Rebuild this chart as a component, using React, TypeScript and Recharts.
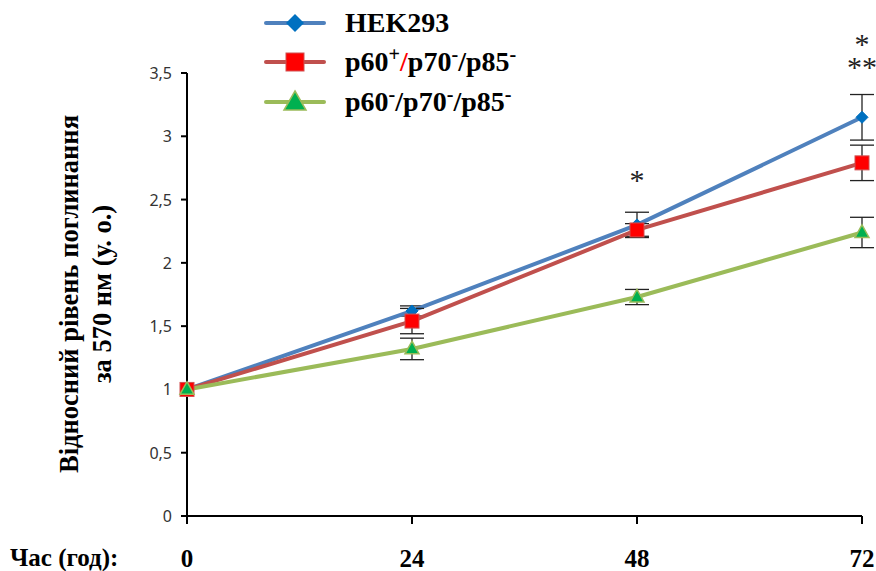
import React from "react";
import { LineChart, Line, XAxis, YAxis, ErrorBar, LabelList } from "recharts";

const hours = [0, 24, 48, 72];
const hek = [1, 1.62, 2.3, 3.15];
const hekErr = [0, 0.04, 0.1, 0.18];
const p60plus = [1, 1.54, 2.26, 2.79];
const p60plusErr = [0, 0.1, 0.05, 0.14];
const p60minus = [1, 1.32, 1.73, 2.24];
const p60minusErr = [0, 0.085, 0.06, 0.12];
const yTicks = [0, 0.5, 1, 1.5, 2, 2.5, 3, 3.5];
const xTicks = [0, 24, 48, 72];
const stars = ["", "", "*", "*|**"];

const data = hours.map((h, i) => ({
  h,
  hek: hek[i],
  hekErr: hekErr[i],
  pp: p60plus[i],
  ppErr: p60plusErr[i],
  pm: p60minus[i],
  pmErr: p60minusErr[i],
  star: stars[i],
}));

const serif = "'Liberation Serif', 'Times New Roman', serif";

const Diamond = (props: any) => {
  const { cx, cy } = props;
  if (cx == null || cy == null) return null;
  const r = 6;
  return <path d={`M${cx},${cy - r} L${cx + r},${cy} L${cx},${cy + r} L${cx - r},${cy} Z`} fill="#0070C0" stroke="#0070C0" />;
};
const Square = (props: any) => {
  const { cx, cy } = props;
  if (cx == null || cy == null) return null;
  const s = 7;
  return <rect x={cx - s} y={cy - s} width={2 * s} height={2 * s} fill="#FF0000" stroke="#D05050" strokeWidth={1} />;
};
const Tri = (props: any) => {
  const { cx, cy } = props;
  if (cx == null || cy == null) return null;
  const s = 7;
  return <path d={`M${cx},${cy - s * 1.1} L${cx + s},${cy + s * 0.7} L${cx - s},${cy + s * 0.7} Z`} fill="#00B050" stroke="#9BBB59" strokeWidth={1.5} />;
};

const XTick = (props: any) => {
  const { x, payload } = props;
  return (
    <text x={x} y={558} textAnchor="middle" dominantBaseline="central" fontFamily={serif} fontWeight="bold" fontSize={25} fill="#000">
      {payload.value}
    </text>
  );
};

const YTick = (props: any) => {
  const { x, y, payload } = props;
  return (
    <text x={x} y={y} textAnchor="end" dominantBaseline="central" fontFamily="'Noto Sans', sans-serif" fontSize={16} fill="#333">
      {String(payload.value).replace(".", ",")}
    </text>
  );
};

const StarLabel = (props: any) => {
  const { x, y, value } = props;
  if (!value) return null;
  const parts = String(value).split("|");
  if (parts.length === 1) {
    return (
      <text x={x} y={y - 35} textAnchor="middle" fontFamily={serif} fontSize={30} fill="#222">
        {parts[0]}
      </text>
    );
  }
  return (
    <text x={x} y={y - 63} textAnchor="middle" fontFamily={serif} fontSize={30} fill="#222">
      <tspan x={x}>{parts[0]}</tspan>
      <tspan x={x} dy={23}>{parts[1]}</tspan>
    </text>
  );
};

const supStyle: React.CSSProperties = { fontSize: "0.72em", verticalAlign: "0.5em", lineHeight: 0 };

const LegendRow = ({ top, color, marker, children }: any) => (
  <div style={{ position: "absolute", left: 263, top, height: 40, display: "flex", alignItems: "center" }}>
    <svg width={64} height={30}>
      <line x1={3} y1={15} x2={61} y2={15} stroke={color} strokeWidth={4} strokeLinecap="round" />
      {marker}
    </svg>
    <span style={{ marginLeft: 18, fontFamily: serif, fontWeight: "bold", fontSize: 28, color: "#000", whiteSpace: "nowrap" }}>{children}</span>
  </div>
);

export default function App() {
  return (
    <div style={{ position: "absolute", left: 0, top: 0, width: 876, height: 571, background: "#fff" }}>
      <LineChart width={876} height={571} data={data} margin={{ top: 73, right: 14, bottom: 25, left: 130 }}>
        <XAxis
          dataKey="h"
          type="number"
          domain={[0, 72]}
          ticks={xTicks}
          height={30}
          axisLine={{ stroke: "#000", strokeWidth: 2 }}
          tickLine={{ stroke: "#000", strokeWidth: 2 }}
          tickSize={8}
          tick={<XTick />}
        />
        <YAxis
          type="number"
          domain={[0, 3.5]}
          ticks={yTicks}
          width={57}
          axisLine={{ stroke: "#000", strokeWidth: 2 }}
          tickLine={{ stroke: "#000", strokeWidth: 2 }}
          tickSize={6}
          tickMargin={9}
          tick={<YTick />}
        />
        <Line dataKey="hek" stroke="#4F81BD" strokeWidth={4} dot={<Diamond />} isAnimationActive={false}>
          <ErrorBar dataKey="hekErr" width={12} stroke="#222" strokeWidth={1.3} direction="y" />
          <LabelList dataKey="star" content={<StarLabel />} />
        </Line>
        <Line dataKey="pp" stroke="#C0504D" strokeWidth={4} dot={<Square />} isAnimationActive={false}>
          <ErrorBar dataKey="ppErr" width={12} stroke="#222" strokeWidth={1.3} direction="y" />
        </Line>
        <Line dataKey="pm" stroke="#9BBB59" strokeWidth={4} dot={<Tri />} isAnimationActive={false}>
          <ErrorBar dataKey="pmErr" width={12} stroke="#222" strokeWidth={1.3} direction="y" />
        </Line>
      </LineChart>

      <div
        style={{
          position: "absolute",
          left: 86,
          top: 294,
          transform: "translate(-50%, -50%) rotate(-90deg)",
          fontFamily: serif,
          fontWeight: "bold",
          fontSize: 26.5,
          lineHeight: "33px",
          textAlign: "center",
          whiteSpace: "nowrap",
          color: "#000",
        }}
      >
        <div>Відносний рівень поглинання</div>
        <div>за 570 нм (у. о.)</div>
      </div>

      <div style={{ position: "absolute", left: 10, top: 558, transform: "translateY(-50%)", fontFamily: serif, fontWeight: "bold", fontSize: 25, lineHeight: "30px", whiteSpace: "nowrap", color: "#000" }}>
        Час (год):
      </div>

      <LegendRow top={3} color="#4F81BD" marker={<path d="M32,6 L41,15 L32,24 L23,15 Z" fill="#0070C0" />}>
        HEK293
      </LegendRow>
      <LegendRow top={42} color="#C0504D" marker={<rect x={23} y={6} width={18} height={18} fill="#FF0000" stroke="#D05050" />}>
        p60<span style={supStyle}>+</span>
        <span style={{ color: "#FF0000" }}>/</span>p70<span style={supStyle}>-</span>/p85<span style={supStyle}>-</span>
      </LegendRow>
      <LegendRow top={82} color="#9BBB59" marker={<path d="M32,4 L43,23 L21,23 Z" fill="#00B050" stroke="#9BBB59" strokeWidth={1.5} />}>
        p60<span style={supStyle}>-</span>/p70<span style={supStyle}>-</span>/p85<span style={supStyle}>-</span>
      </LegendRow>
    </div>
  );
}
